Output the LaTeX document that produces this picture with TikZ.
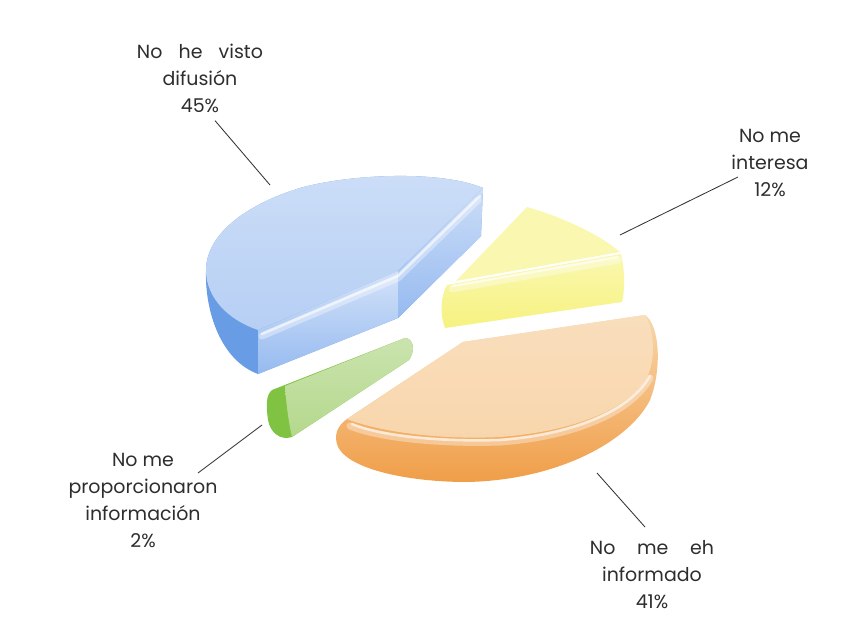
\documentclass[tikz,border=0pt]{standalone}
\usepackage{fontspec}
\setmainfont{Poppins}
\usetikzlibrary{positioning}
\definecolor{myblue}{RGB}{182,207,244}
\definecolor{mybluemid}{RGB}{150,186,240}
\definecolor{mybluedark}{RGB}{104,156,228}
\definecolor{myorange}{RGB}{248,214,172}
\definecolor{myorangedark}{RGB}{240,158,72}
\definecolor{myyellow}{RGB}{250,248,176}
\definecolor{myyellowdark}{RGB}{246,242,128}
\definecolor{mygreen}{RGB}{180,216,140}
\definecolor{mygreendark}{RGB}{128,194,66}

\begin{document}
\begin{tikzpicture}[
  x=0.025cm, y=-0.025cm,
  lbl/.style={align=center, font=\fontsize{13.5}{19.2}\selectfont, text=black!82, inner sep=0pt},
  callout/.style={draw=black!80, line width=0.6pt},
  shine/.style={draw=white, line width=5pt, opacity=0.35, line cap=round},
  shinethin/.style={draw=white, line width=1.8pt, opacity=0.6, line cap=round}
]
\useasboundingbox[fill=white] (0,0) rectangle (844,637);

% No he visto difusion
\fill[mybluedark] (483,188) .. controls (440,170) and (350,174) .. (300,188)
  .. controls (245,205) and (205,235) .. (206,272)
  .. controls (205,310) and (220,360) .. (258,374) -- (398,318) -- (481,236) -- cycle;
\shade[top color=myblue!70!white, bottom color=myblue]
  (398,271) -- (258,330) .. controls (228,320) and (207,298) .. (206,272)
  .. controls (205,235) and (245,205) .. (300,188)
  .. controls (350,174) and (440,170) .. (483,188) -- cycle;
\shade[top color=myblue!60!white, bottom color=mybluemid]
  (258,330) -- (398,271) -- (398,318) -- (258,374) -- cycle;
\shade[top color=myblue!70!white, bottom color=mybluemid]
  (398,271) -- (483,188) -- (481,236) -- (398,318) -- cycle;
\draw[shine] (262,336) -- (398,278) -- (478,200);
\draw[shinethin] (262,334) -- (398,276) -- (480,196);

% No me interesa
\shade[top color=myyellow, bottom color=myyellowdark]
  (447,285) -- (621,254) .. controls (625,270) and (625,290) .. (622,302)
  -- (445,328) .. controls (440,315) and (440,298) .. (447,285) -- cycle;
\fill[myyellow] (456,281) -- (527,207) .. controls (565,218) and (600,235) .. (620,252) -- cycle;
\draw[shine] (452,289) -- (618,260);
\draw[shinethin] (452,286) -- (618,257);

% No me eh informado
\shade[top color=myorange, bottom color=myorangedark]
  (463,342) -- (645,315) .. controls (660,325) and (662,370) .. (650,400)
  .. controls (630,440) and (560,480) .. (467,482)
  .. controls (410,482) and (350,470) .. (338,447)
  .. controls (333,435) and (338,425) .. (347,419) -- cycle;
\shade[top color=myorange!80!white, bottom color=myorange]
  (463,342) -- (645,315) .. controls (655,330) and (655,360) .. (648,375)
  .. controls (630,410) and (570,432) .. (500,437)
  .. controls (440,440) and (380,432) .. (347,419) -- cycle;
\draw[shine] (350,426) .. controls (380,438) and (440,444) .. (500,442)
  .. controls (570,437) and (630,414) .. (650,378);
\draw[shinethin] (352,424) .. controls (380,436) and (440,442) .. (500,440)
  .. controls (570,435) and (630,412) .. (650,376);

% No me proporcionaron informacion
\fill[mygreendark] (272,390) -- (405,338) .. controls (413,338) and (416,350) .. (409,360)
  -- (292,437) .. controls (280,441) and (270,432) .. (268,420)
  .. controls (266,405) and (266,395) .. (272,390) -- cycle;
\shade[top color=mygreen!70!white, bottom color=mygreen]
  (285,386) -- (405,338) .. controls (413,338) and (416,350) .. (409,360)
  -- (292,437) .. controls (288,420) and (286,400) .. (285,386) -- cycle;

% labels
\node[lbl] (lblBlue) at (200,78) {\makebox[3.15cm][s]{No he visto}\\difusión\\45\%};
\node[lbl] (lblYellow) at (770,163) {No me\\interesa\\12\%};
\node[lbl] (lblGreen) at (143,500) {No me\\proporcionaron\\información\\2\%};
\node[lbl] (lblOrange) at (652,575) {\makebox[3.1cm][s]{No me eh}\\informado\\41\%};

\coordinate (tipBlue) at (270,185);
\coordinate (tipYellow) at (620,235);
\coordinate (tipGreen) at (262,425);
\coordinate (tipOrange) at (597,473);

\draw[callout] ([shift={(15,8)}]lblBlue.south) -- (tipBlue);
\draw[callout] ([shift={(-32,14)}]lblYellow.center) -- (tipYellow);
\draw[callout] ([shift={(55,-27)}]lblGreen.center) -- (tipGreen);
\draw[callout] ([shift={(-7,-48)}]lblOrange.center) -- (tipOrange);

\end{tikzpicture}
\end{document}
